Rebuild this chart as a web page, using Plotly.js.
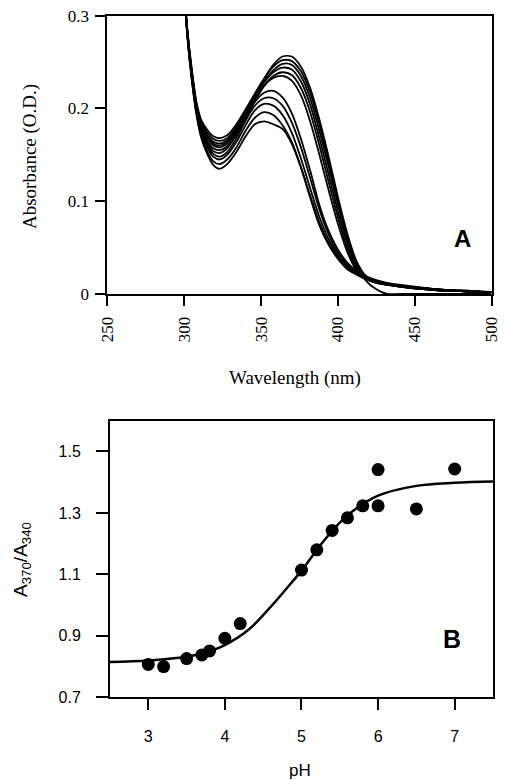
<!DOCTYPE html>
<html>
<head>
<meta charset="utf-8">
<script src="https://cdn.plot.ly/plotly-3.0.1.min.js"></script>
<style>
html,body{margin:0;padding:0;background:#fff;}
#chart{width:505px;height:780px;}
</style>
</head>
<body>
<div id="chart"></div>
<script>
// ---------- Panel A: absorbance spectra ----------
var wavelength = [300,302,305,308,311,315,319,323,328,334,340,346,352,358,364,370,376,382,388,394,400,406,412,418,425,432,440,450,465,480,500];

var specH1 = [.33,.285,.24,.205,.186,.174,.167,.165,.168,.180,.197,.215,.232,.247,.256,.256,.245,.222,.188,.148,.105,.066,.036,.020,.014,.011,.009,.007,.005,.003,.002];
var specH2 = [.33,.287,.242,.207,.188,.177,.170,.168,.171,.183,.199,.216,.232,.245,.252,.251,.240,.217,.183,.142,.100,.062,.033,.015,.005,.000,.000,.000,.000,.000,.000];
var specH3 = [.33,.284,.238,.203,.183,.170,.162,.160,.164,.177,.195,.213,.229,.241,.248,.247,.235,.211,.176,.137,.097,.060,.032,.019,.014,.011,.009,.007,.005,.003,.002];
var specH4 = [.33,.285,.239,.204,.184,.171,.164,.162,.166,.179,.196,.213,.228,.239,.244,.242,.229,.204,.168,.129,.090,.055,.030,.018,.013,.010,.008,.006,.004,.003,.002];
var specH5 = [.33,.283,.236,.200,.179,.165,.157,.155,.159,.172,.190,.208,.224,.235,.239,.236,.222,.196,.160,.121,.083,.050,.028,.017,.012,.010,.008,.006,.004,.003,.002];
var specH6 = [.33,.284,.237,.202,.181,.168,.160,.158,.162,.175,.193,.210,.225,.233,.235,.230,.214,.186,.150,.112,.076,.046,.026,.017,.012,.010,.008,.006,.004,.003,.002];
var specL1 = [.33,.283,.236,.200,.178,.163,.154,.152,.157,.172,.191,.207,.217,.219,.212,.195,.167,.133,.096,.068,.048,.034,.025,.019,.015,.012,.010,.008,.005,.004,.002];
var specL2 = [.33,.282,.234,.198,.176,.160,.151,.148,.153,.168,.187,.203,.211,.211,.203,.185,.158,.125,.091,.064,.045,.032,.024,.018,.014,.011,.009,.007,.005,.003,.002];
var specL3 = [.33,.281,.233,.197,.174,.158,.148,.145,.150,.164,.182,.198,.205,.203,.193,.174,.146,.114,.083,.059,.042,.030,.023,.018,.014,.011,.009,.007,.005,.003,.002];
var specL4 = [.33,.280,.231,.195,.171,.154,.143,.140,.145,.158,.176,.190,.196,.193,.182,.164,.137,.106,.077,.055,.040,.029,.022,.017,.013,.011,.009,.007,.005,.003,.002];
var specL5 = [.33,.279,.230,.193,.169,.151,.139,.135,.140,.153,.170,.183,.186,.183,.178,.162,.136,.104,.074,.053,.038,.027,.021,.016,.013,.010,.008,.006,.004,.003,.002];

var spectra = [specH1,specH2,specH3,specH4,specH5,specH6,specL1,specL2,specL3,specL4,specL5];

var xTicksA = [250,300,350,400,450,500];
var yTicksA = [0,0.1,0.2,0.3];
var yTickTextA = ['0','0.1','0.2','0.3'];

// ---------- Panel B: ratio vs pH ----------
var pH    = [3.0,3.2,3.5,3.7,3.8,4.0,4.2,5.0,5.2,5.4,5.6,5.8,6.0,6.0,6.5,7.0];
var ratio = [0.807,0.800,0.826,0.838,0.851,0.892,0.940,1.114,1.180,1.243,1.284,1.323,1.323,1.441,1.313,1.443];

var fitPH    = [2.5,3.0,3.5,3.8,4.0,4.3,4.6,4.9,5.0,5.3,5.6,6.0,6.5,7.0,7.5];
var fitRatio = [0.815,0.820,0.832,0.850,0.870,0.918,0.995,1.082,1.112,1.212,1.292,1.356,1.388,1.398,1.402];

var xTicksB = [3,4,5,6,7];
var yTicksB = [0.7,0.9,1.1,1.3,1.5];

var serif = "'Liberation Serif', 'Times New Roman', serif";
var sans = "'Liberation Sans', Arial, sans-serif";

var traces = spectra.map(function(s){
  return {x: wavelength, y: s, xaxis:'x', yaxis:'y', type:'scatter', mode:'lines',
          line:{color:'#000', width:1.8, shape:'spline', smoothing:0.8},
          hoverinfo:'skip', showlegend:false};
});
traces.push({x: fitPH, y: fitRatio, xaxis:'x2', yaxis:'y2', type:'scatter', mode:'lines',
             line:{color:'#000', width:2.5, shape:'spline'}, showlegend:false});
traces.push({x: pH, y: ratio, xaxis:'x2', yaxis:'y2', type:'scatter', mode:'markers',
             marker:{color:'#000', size:13}, showlegend:false});

var layout = {
  width:505, height:780,
  margin:{l:0,r:0,t:0,b:0},
  paper_bgcolor:'#fff', plot_bgcolor:'#fff',
  showlegend:false,
  xaxis:{domain:[0.2125,0.9733], anchor:'y', range:[250,500], tickvals:xTicksA, ticktext:xTicksA.map(String),
         ticks:'outside', ticklen:10, tickwidth:2, tickcolor:'#000', tickangle:-90, ticklabelstandoff:4,
         tickfont:{family:serif, size:17, color:'#000'},
         showline:true, linewidth:2, linecolor:'#000', mirror:true, showgrid:false, zeroline:false, automargin:false},
  yaxis:{domain:[0.6231,0.9799], anchor:'x', range:[0,0.3], tickvals:yTicksA, ticktext:yTickTextA,
         ticks:'outside', ticklen:10, tickwidth:2, tickcolor:'#000', ticklabelstandoff:3,
         tickfont:{family:serif, size:17, color:'#000'},
         showline:true, linewidth:2, linecolor:'#000', mirror:true, showgrid:false, zeroline:false, automargin:false},
  xaxis2:{domain:[0.2178,0.9762], anchor:'y2', range:[2.5,7.5], tickvals:xTicksB, ticktext:xTicksB.map(String),
         ticks:'outside', ticklen:11, tickwidth:2, tickcolor:'#000', ticklabelstandoff:12,
         tickfont:{family:sans, size:16, color:'#000'},
         showline:true, linewidth:2, linecolor:'#000', mirror:true, showgrid:false, zeroline:false, automargin:false},
  yaxis2:{domain:[0.1060,0.4606], anchor:'x2', range:[0.7,1.6], tickvals:yTicksB, ticktext:['0.7','0.9','1.1','1.3','1.5'],
         ticks:'outside', ticklen:12, tickwidth:2, tickcolor:'#000', ticklabelstandoff:12,
         tickfont:{family:sans, size:16, color:'#000'},
         showline:true, linewidth:2, linecolor:'#000', mirror:true, showgrid:false, zeroline:false, automargin:false},
  annotations:[
    {text:'Absorbance (O.D.)', xref:'paper', yref:'paper', x:30/505, y:1-157/780, xanchor:'center', yanchor:'middle',
     textangle:-90, showarrow:false, font:{family:serif, size:19, color:'#000'}},
    {text:'Wavelength (nm)', xref:'paper', yref:'paper', x:295/505, y:1-378/780, xanchor:'center', yanchor:'middle',
     showarrow:false, font:{family:serif, size:19, color:'#000'}},
    {text:'<b>A</b>', xref:'paper', yref:'paper', x:462/505, y:1-238/780, xanchor:'center', yanchor:'middle',
     showarrow:false, font:{family:sans, size:24, color:'#000'}},
    {text:'A<sub>370</sub>/A<sub>340</sub>', xref:'paper', yref:'paper', x:22/505, y:1-560/780, xanchor:'center', yanchor:'middle',
     textangle:-90, showarrow:false, font:{family:sans, size:19, color:'#000'}},
    {text:'pH', xref:'paper', yref:'paper', x:300/505, y:1-770/780, xanchor:'center', yanchor:'middle',
     showarrow:false, font:{family:sans, size:17, color:'#000'}},
    {text:'<b>B</b>', xref:'paper', yref:'paper', x:452/505, y:1-639/780, xanchor:'center', yanchor:'middle',
     showarrow:false, font:{family:sans, size:25, color:'#000'}}
  ]
};

Plotly.newPlot('chart', traces, layout, {staticPlot:true, displayModeBar:false});
</script>
</body>
</html>
